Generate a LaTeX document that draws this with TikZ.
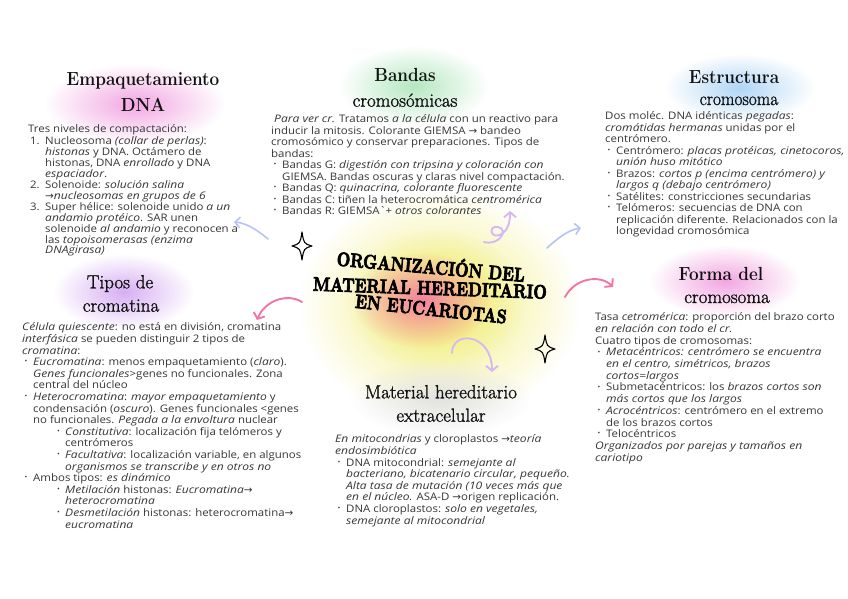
\documentclass[tikz,border=0pt]{standalone}
\usepackage{fontspec}
\usepackage{graphicx}
\usetikzlibrary{fadings,arrows.meta}
\tikzfading[name=softblob, inner color=transparent!0, outer color=transparent!100]
\newfontfamily\bodyfont{Open Sans}[FakeStretch=1.1,ItalicFeatures={FakeStretch=1.16}]
\newfontfamily\symfont{DejaVu Sans}
\newfontfamily\headreg{Latin Modern Roman}[FakeBold=1.3]
\newfontfamily\ttlfont{lmroman10-bold.otf}[FakeBold=4]
\definecolor{txt}{HTML}{363636}
\definecolor{headc}{HTML}{111111}
\definecolor{bpink}{HTML}{F2A6E2}
\definecolor{bgreen}{HTML}{B5E8C0}
\definecolor{bblue}{HTML}{B0D6F6}
\definecolor{blav}{HTML}{D7AEF4}
\definecolor{byellow}{HTML}{F2EE78}
\definecolor{bcore}{HTML}{F5809F}
\definecolor{bgray}{HTML}{E2E2E2}
\definecolor{arrblue}{HTML}{B7C3F2}
\definecolor{arrpink}{HTML}{F076A6}
\definecolor{arrlav}{HTML}{D6B9F2}
\newcommand{\arr}{{\symfont →}}
\newcommand{\bul}{\hspace*{2.5pt}\makebox[8.5pt][l]{\raisebox{0.35ex}{\scalebox{0.65}{•}}}}
\newcommand{\cnt}{\hspace*{11pt}}
\newcommand{\sbul}{\hspace*{35pt}\makebox[8pt][l]{\raisebox{0.35ex}{\scalebox{0.65}{•}}}}
\newcommand{\scnt}{\hspace*{43pt}}
\newcommand{\num}[1]{\hspace*{2pt}\makebox[15pt][l]{#1}}
\newcommand{\ncnt}{\hspace*{17pt}}
\newcommand{\hb}[1]{\scalebox{0.9}[1]{\bfseries #1}}
\newcommand{\hr}[1]{{\headreg #1}}
\newcommand{\tl}[1]{\scalebox{0.8}[1]{#1}}
\begin{document}
\begin{tikzpicture}[x=1pt,y=-1pt,
  body/.style={anchor=north west,inner sep=0pt,align=left,text=txt,font=\bodyfont\fontsize{10.4}{11.6}\selectfont},
  head/.style={anchor=base,inner sep=0pt,text=headc,font=\fontsize{19}{19}\selectfont},
  ttl/.style={inner sep=0pt,text=black,font=\ttlfont\fontsize{19.5}{19.5}\selectfont},
  blob/.style={path fading=softblob},
  blu/.style={draw=arrblue,line width=1.6pt,line cap=round,line join=round,-{Straight Barb[length=5pt,width=11pt]}},
  pnk/.style={draw=arrpink,line width=1.9pt,line cap=round,line join=round,-{Straight Barb[length=5pt,width=12pt]}},
  lav/.style={draw=arrlav,line width=1.9pt,line cap=round,line join=round,-{Straight Barb[length=5pt,width=12pt]}},
  sparkle/.pic={\draw[line width=1.1pt,line join=round] (0,-14) .. controls (1.8,-2.5) .. (10,0) .. controls (1.8,2.5) .. (0,14) .. controls (-1.8,2.5) .. (-10,0) .. controls (-1.8,-2.5) .. cycle;}
]
\fill[white] (0,0) rectangle (848,599);
\useasboundingbox (0,0) rectangle (848,599);

% soft colour blobs
\fill[bpink,blob] (135,104) ellipse (90 and 40);
\fill[bgreen,blob] (414,86) ellipse (75 and 40);
\fill[bblue,blob] (740,88) ellipse (75 and 34);
\fill[blav,blob] (124,292) ellipse (70 and 38);
\fill[bpink,blob] (725,281) ellipse (75 and 36);
\fill[byellow,blob] (440,305) ellipse (140 and 115);
\fill[byellow,blob] (435,300) ellipse (90 and 70);
\fill[bcore,blob] (422,300) ellipse (70 and 48);
\fill[bgray,blob] (440,398) ellipse (90 and 38);

% headings
\node[head] (h1a) at (143,86) {\hb{Empaquetamiento}};
\node[head] (h1b) at (143,111.7) {\hb{DNA}};
\node[head] (h2a) at (405,82) {\hb{Bandas}};
\node[head] (h2b) at (405,106.7) {\hr{cromosómicas}};
\node[head] (h3a) at (734,83.3) {\hb{Estructura}};
\node[head] (h3b) at (739,105) {\hr{\scalebox{0.92}[1]{cromosoma}}};
\node[head] (h4a) at (120,288.3) {\hr{Tipos de}};
\node[head] (h4b) at (121,311.7) {\hr{cromatina}};
\node[head] (h5a) at (721,280) {\hb{Forma del}};
\node[head] (h5b) at (727,303) {\hr{cromosoma}};
\node[head] (h6a) at (441,398.3) {\hr{Material hereditario}};
\node[head] (h6b) at (441,421.7) {\hr{extracelular}};

% central title
\node[ttl,rotate=-5] (t1) at (431,265) {\tl{ORGANIZACIÓN DEL}};
\node[ttl,rotate=-2] (t2) at (430,288) {\tl{MATERIAL HEREDITARIO}};
\node[ttl,rotate=-6] (t3) at (431,309) {\tl{EN EUCARIOTAS}};

% body texts
\node[body,font=\bodyfont\fontsize{10.4}{10.9}\selectfont] (b1) at (28,124.6) {\strut Tres niveles de compactación:\\
\num{1.}Nucleosoma \textit{(collar de perlas)}:\\
\ncnt\textit{histonas} y DNA. Octámero de\\
\ncnt histonas, DNA \textit{enrollado} y DNA\\
\ncnt\textit{espaciador}.\\
\num{2.}Solenoide: \textit{solución salina}\\
\ncnt\arr\textit{nucleosomas en grupos de 6}\\
\num{3.}Super hélice: solenoide unido \textit{a un}\\
\ncnt\textit{andamio protéico}. SAR unen\\
\ncnt solenoide \textit{al andamio} y reconocen a\\
\ncnt las \textit{topoisomerasas (enzima}\\
\ncnt\textit{DNAgirasa)}};

\node[body,font=\bodyfont\fontsize{10.4}{11.5}\selectfont] (b2) at (271,114.6) {\strut\ \textit{Para ver cr.} Tratamos \textit{a la célula} con un reactivo para\\
inducir la mitosis. Colorante GIEMSA \arr{} bandeo\\
cromosómico y conservar preparaciones. Tipos de\\
bandas:\\
\bul Bandas G: \textit{digestión con tripsina y coloración con}\\
\cnt GIEMSA. Bandas oscuras y claras nivel compactación.\\
\bul Bandas Q: \textit{quinacrina, colorante fluorescente}\\
\bul Bandas C: tiñen la heterocromática \textit{centromérica}\\
\bul Bandas R: GIEMSA\textasciigrave+ \textit{otros colorantes}};

\node[body,font=\bodyfont\fontsize{10.4}{11.5}\selectfont] (b3) at (605,111.6) {\strut Dos moléc. DNA idénticas \textit{pegadas}:\\
\textit{cromátidas hermanas} unidas por el\\
centrómero.\\
\bul Centrómero: \textit{placas protéicas, cinetocoros,}\\
\cnt\textit{unión huso mitótico}\\
\bul Brazos: \textit{cortos p (encima centrómero) y}\\
\cnt\textit{largos q (debajo centrómero)}\\
\bul Satélites: constricciones secundarias\\
\bul Telómeros: secuencias de DNA con\\
\cnt replicación diferente. Relacionados con la\\
\cnt longevidad cromosómica};

\node[body] (b4) at (22,322.6) {\strut\textit{Célula quiescente}: no está en división, cromatina\\
\textit{interfásica} se pueden distinguir 2 tipos de\\
\textit{cromatina}:\\
\bul\textit{Eucromatina}: menos empaquetamiento (\textit{claro}).\\
\cnt\textit{Genes funcionales}>genes no funcionales. Zona\\
\cnt central del núcleo\\
\bul\textit{Heterocromatina}: \textit{mayor empaquetamiento} y\\
\cnt condensación (\textit{oscuro}). Genes funcionales <genes\\
\cnt no funcionales. \textit{Pegada a la envoltura} nuclear\\
\sbul\textit{Constitutiva}: localización fija telómeros y\\
\scnt centrómeros\\
\sbul\textit{Facultativa}: localización variable, en algunos\\
\scnt\textit{organismos se transcribe y en otros no}\\
\bul Ambos tipos: \textit{es dinámico}\\
\sbul\textit{Metilación} histonas: \textit{Eucromatina}\arr\\
\scnt\textit{heterocromatina}\\
\sbul\textit{Desmetilación} histonas: heterocromatina\arr\\
\scnt\textit{eucromatina}};

\node[body] (b5) at (335,434.6) {\strut\textit{En mitocondrias} y cloroplastos \arr\textit{teoría}\\
\textit{endosimbiótica}\\
\bul DNA mitocondrial: \textit{semejante al}\\
\cnt\textit{bacteriano, bicatenario circular, pequeño.}\\
\cnt\textit{Alta tasa de mutación (10 veces más que}\\
\cnt\textit{en el núcleo.} ASA-D \arr origen replicación.\\
\bul DNA cloroplastos: \textit{solo en vegetales,}\\
\cnt\textit{semejante al mitocondrial}};

\node[body,font=\bodyfont\fontsize{10.4}{11.67}\selectfont] (b6) at (595,312.6) {\strut Tasa \textit{cetromérica}: proporción del brazo corto\\
\textit{en relación con todo el cr.}\\
Cuatro tipos de cromosomas:\\
\bul\textit{Metacéntricos: centrómero se encuentra}\\
\cnt\textit{en el centro, simétricos, brazos}\\
\cnt\textit{cortos=largos}\\
\bul Submetacéntricos: los \textit{brazos cortos son}\\
\cnt\textit{más cortos que los largos}\\
\bul\textit{Acrocéntricos}: centrómero en el extremo\\
\cnt de los brazos cortos\\
\bul Telocéntricos\\
\textit{Organizados por parejas y tamaños en}\\
\textit{cariotipo}};

% decorative connectors
\coordinate (a1s) at (268,239); \coordinate (a1e) at (234,222);
\draw[blu] (a1s) .. controls (256,229) and (246,223) .. (a1e);
\coordinate (a2s) at (547,248); \coordinate (a2e) at (581,228);
\draw[blu] (a2s) .. controls (558,238) and (568,230) .. (a2e);
\coordinate (p1s) at (302,302); \coordinate (p1e) at (257,320);
\draw[pnk] (p1s) .. controls (288,293) and (265,300) .. (p1e);
\coordinate (p2s) at (565,297); \coordinate (p2e) at (613,287);
\draw[pnk] (p2s) .. controls (575,278) and (600,274) .. (p2e);
\coordinate (u1s) at (484,242); \coordinate (u1e) at (510,211);
\draw[lav] (u1s) .. controls (500,246) and (509,229) .. (498,227) .. controls (487,225) and (491,242) .. (503,233) .. controls (509,228) and (510,221) .. (u1e);
\coordinate (u2s) at (452,353); \coordinate (u2e) at (492,372);
\draw[lav] (u2s) .. controls (452,330) and (492,333) .. (u2e);

% sparkles
\pic at (302,246) {sparkle};
\pic at (545,349) {sparkle};
\end{tikzpicture}
\end{document}
